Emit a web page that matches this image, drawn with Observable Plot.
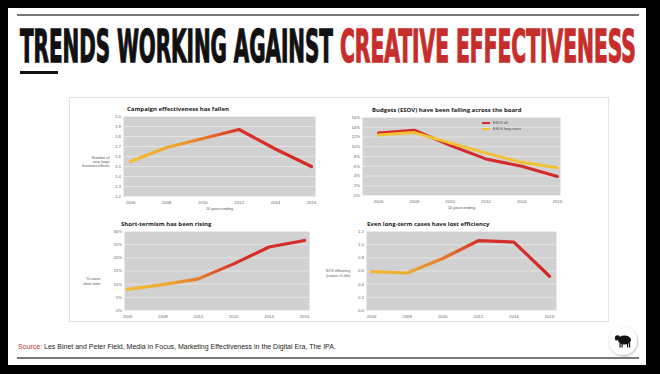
<!DOCTYPE html>
<html><head><meta charset="utf-8">
<script src="https://cdn.jsdelivr.net/npm/d3@7"></script>
<script src="https://cdn.jsdelivr.net/npm/@observablehq/plot@0.6"></script>
<style>
html,body{margin:0;padding:0;background:#000;}
#page{position:relative;width:660px;height:374px;background:#000;overflow:hidden;font-family:"Liberation Sans",Arial,sans-serif;}
#slide{position:absolute;left:8px;top:8px;width:638px;height:357px;background:#fff;}
.hline{position:absolute;background:#777;}
#panel{position:absolute;left:69px;top:97px;width:538px;height:223px;border:1px solid #e2e2e2;background:#fff;box-shadow:0 0 1px #eee;}
.ctitle{position:absolute;font-family:"Open Sans",sans-serif;font-weight:700;font-size:6px;line-height:8px;color:#222;white-space:nowrap;}
#source{position:absolute;left:18px;top:342px;font-size:7px;line-height:10px;color:#222;white-space:nowrap;}
#source span{color:#c8302f;}
#legend{position:absolute;left:482px;top:121px;font-size:3.6px;line-height:5.5px;color:#444;font-family:"Liberation Sans",Arial,sans-serif;}
#legend div{white-space:nowrap;}
#legend i{display:inline-block;width:8px;height:2px;margin-right:3px;vertical-align:middle;}
</style></head>
<body>
<div id="page">
  <div id="slide"></div>
  <div class="hline" style="left:17px;top:14px;width:622px;height:1.5px;"></div>
  <svg style="position:absolute;left:0;top:0" width="660" height="80">
    <text class="ttl" data-x="20" data-w="313" x="0" y="0" font-family="'Liberation Sans Narrow','DejaVu Sans Condensed',sans-serif" font-weight="700" font-size="44" fill="#111" stroke="#111" stroke-width="1.3">TRENDS WORKING AGAINST</text>
    <text class="ttl" data-x="340" data-w="296" x="0" y="0" font-family="'Liberation Sans Narrow','DejaVu Sans Condensed',sans-serif" font-weight="700" font-size="44" fill="#c62d2b" stroke="#c62d2b" stroke-width="1.3">CREATIVE EFFECTIVENESS</text>
  </svg>
  <div style="position:absolute;left:20px;top:71px;width:38px;height:3px;background:#111;"></div>
  <div id="panel"></div>
  <div class="ctitle" style="left:127px;top:105px;">Campaign effectiveness has fallen</div>
  <div class="ctitle" style="left:372px;top:106px;">Budgets (ESOV) have been falling across the board</div>
  <div class="ctitle" style="left:121px;top:220px;">Short-termism has been rising</div>
  <div class="ctitle" style="left:367px;top:220px;">Even long-term cases have lost efficiency</div>
  <div id="charts"></div>
  <div id="legend">
    <div><i style="background:#d42a2a"></i>ESOV all</div>
    <div><i style="background:#f3c234"></i>ESOV long cases</div>
  </div>
  <div id="source"><span>Source:</span> Les Binet and Peter Field, Media in Focus, Marketing Effectiveness in the Digital Era, The IPA.</div>
  <div class="hline" style="left:17px;top:357px;width:622px;height:1.5px;"></div>
  <svg style="position:absolute;left:605px;top:323px;overflow:visible" width="36" height="36">
    <defs><filter id="sh" x="-30%" y="-30%" width="160%" height="160%"><feDropShadow dx="0.5" dy="1" stdDeviation="1.2" flood-color="#000" flood-opacity="0.35"/></filter></defs>
    <circle cx="18" cy="18" r="14" fill="#fff" filter="url(#sh)"/>
    <ellipse cx="19.5" cy="17" rx="6.5" ry="4.6" fill="#111"/>
    <ellipse cx="12.5" cy="14.5" rx="2.6" ry="2.2" fill="#111"/>
    <ellipse cx="11.5" cy="16.2" rx="1.4" ry="1.2" fill="#111"/>
    <rect x="14.5" y="20" width="1.2" height="4.5" fill="#111"/>
    <rect x="16.5" y="20" width="1.2" height="4.5" fill="#111"/>
    <rect x="22" y="20" width="1.2" height="4.5" fill="#111"/>
    <rect x="24" y="20" width="1.2" height="4.5" fill="#111"/>
  </svg>
</div>
<script>
// ---- data ----
const years = [2006, 2008, 2010, 2012, 2014, 2016];
const campaignEffects = [1.55, 1.69, 1.78, 1.87, 1.675, 1.50];
const esovAll = [12.8, 13.4, 10.3, 7.5, 6.0, 3.9];
const esovLongCases = [12.4, 12.9, 10.8, 8.7, 6.8, 5.7];
const shortTermPct = [8.0, 9.8, 12.0, 17.7, 24.1, 26.6];
const sovEfficiency = [0.59, 0.57, 0.79, 1.06, 1.04, 0.52];
const yTicksEffects = [1.2, 1.3, 1.4, 1.5, 1.6, 1.7, 1.8, 1.9, 2.0];
const yTicksEsov = [0, 2, 4, 6, 8, 10, 12, 14, 16];
const yTicksShort = [0, 5, 10, 15, 20, 25, 30];
const yTicksEff = [0, 0.2, 0.4, 0.6, 0.8, 1.0, 1.2];
const xAxisLabel = "10 years ending";

// fit the condensed headline into its measured width
for (const t of document.querySelectorAll(".ttl")) {
  const w = t.getComputedTextLength();
  t.setAttribute("transform", `translate(${t.dataset.x},62) scale(${(+t.dataset.w) / w},1)`);
}

const rows = (vals) => years.map((year, i) => ({year, value: vals[i]}));

function gradient(id, stops) {
  return () => {
    const ns = "http://www.w3.org/2000/svg";
    const defs = document.createElementNS(ns, "defs");
    const g = document.createElementNS(ns, "linearGradient");
    g.setAttribute("id", id);
    for (const [o, c] of stops) {
      const s = document.createElementNS(ns, "stop");
      s.setAttribute("offset", o);
      s.setAttribute("stop-color", c);
      g.appendChild(s);
    }
    defs.appendChild(g);
    return defs;
  };
}
const warmStops = [["0%", "#f2bd35"], ["25%", "#eea331"], ["42%", "#e6742c"], ["60%", "#d63327"], ["100%", "#d22a25"]];
const warmStops4 = [["0%", "#f0b833"], ["20%", "#eeac31"], ["40%", "#e7792b"], ["60%", "#d53328"], ["100%", "#d12a26"]];

function chart(cfg) {
  const s = cfg.svg, f = cfg.frame;
  const marks = [
    Plot.frame({fill: "#d1d1d1", stroke: "none"}),
    Plot.gridY(cfg.yTicks, {stroke: "#ececec", strokeOpacity: 1, strokeWidth: 0.7}),
    Plot.axisX(years, {tickSize: 0, tickPadding: 4, tickFormat: d => String(d), label: null}),
    Plot.axisY(cfg.yTicks, {tickSize: 0, tickPadding: 2.5, tickFormat: cfg.yFormat, label: null}),
    ...cfg.marks
  ];
  if (cfg.yLabel) marks.push(Plot.text([cfg.yLabel], {frameAnchor: "left", dx: cfg.yLabelDx, dy: cfg.yLabelDy, textAnchor: "end", lineHeight: 1.15, fontSize: 3.8, fill: "#555"}));
  if (cfg.xLabel) marks.push(Plot.text([cfg.xLabel], {frameAnchor: "bottom", dy: 13, fontSize: 3.8, fill: "#555"}));
  const p = Plot.plot({
    width: s.w, height: s.h,
    marginLeft: f.x1 - s.x, marginRight: s.x + s.w - f.x2,
    marginTop: f.y1 - s.y, marginBottom: s.y + s.h - f.y2,
    style: {fontSize: "4.3px", fontFamily: "'Liberation Sans', Arial, sans-serif", color: "#666", background: "transparent", overflow: "visible"},
    x: {type: "linear", domain: [2006, 2016], insetLeft: cfg.insetL, insetRight: cfg.insetR},
    y: {domain: cfg.yDomain},
    marks
  });
  p.style.position = "absolute";
  p.style.left = s.x + "px";
  p.style.top = s.y + "px";
  document.getElementById("charts").appendChild(p);
}

chart({
  svg: {x: 70, y: 100, w: 255, h: 118},
  frame: {x1: 123, x2: 315, y1: 116, y2: 196},
  insetL: 7, insetR: 4,
  yDomain: [1.2, 2.0], yTicks: yTicksEffects, yFormat: d3.format(".1f"),
  yLabel: "Number of\nvery large\nbusiness effects", yLabelDx: -14, yLabelDy: 5,
  xLabel: xAxisLabel,
  marks: [
    gradient("g1", warmStops),
    Plot.line(rows(campaignEffects), {x: "year", y: "value", stroke: "url(#g1)", strokeWidth: 3.2, strokeLinejoin: "miter"})
  ]
});

chart({
  svg: {x: 330, y: 100, w: 240, h: 118},
  frame: {x1: 362, x2: 560, y1: 117, y2: 195},
  insetL: 16, insetR: 3,
  yDomain: [0, 16], yTicks: yTicksEsov, yFormat: d => d + "%",
  xLabel: xAxisLabel,
  marks: [
    Plot.line(rows(esovAll), {x: "year", y: "value", stroke: "#d42a2a", strokeWidth: 3, strokeLinejoin: "miter"}),
    Plot.line(rows(esovLongCases), {x: "year", y: "value", stroke: "#f3c234", strokeWidth: 3, strokeLinejoin: "miter"})
  ]
});

chart({
  svg: {x: 70, y: 225, w: 250, h: 95},
  frame: {x1: 124, x2: 309, y1: 231, y2: 310},
  insetL: 3, insetR: 5,
  yDomain: [0, 30], yTicks: yTicksShort, yFormat: d => d + "%",
  yLabel: "% cases\nshort-term", yLabelDx: -24, yLabelDy: 10,
  marks: [
    gradient("g3", warmStops),
    Plot.line(rows(shortTermPct), {x: "year", y: "value", stroke: "url(#g3)", strokeWidth: 3.2, strokeLinejoin: "miter"})
  ]
});

chart({
  svg: {x: 320, y: 225, w: 250, h: 95},
  frame: {x1: 366, x2: 556, y1: 231, y2: 310},
  insetL: 5, insetR: 7,
  yDomain: [0, 1.2], yTicks: yTicksEff, yFormat: d3.format(".1f"),
  yLabel: "SOV efficiency\n(cases >1.0m)", yLabelDx: -16, yLabelDy: 2,
  marks: [
    gradient("g4", warmStops4),
    Plot.line(rows(sovEfficiency), {x: "year", y: "value", stroke: "url(#g4)", strokeWidth: 3.2, strokeLinejoin: "miter"})
  ]
});
</script>
</body></html>
